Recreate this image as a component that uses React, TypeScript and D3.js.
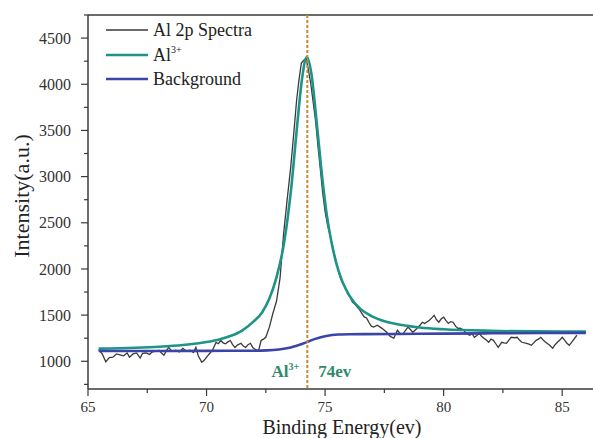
import React from "react";
import * as d3 from "d3";

// ---- data ----
const spectraX = [65.45,65.6,65.75,65.9,66.05,66.2,66.35,66.5,66.65,66.75,66.9,67.05,67.2,67.3,67.45,67.6,67.7,67.85,68.0,68.1,68.2,68.3,68.4,68.55,68.7,68.85,69.0,69.15,69.3,69.45,69.55,69.65,69.8,69.9,70.0,70.15,70.25,70.4,70.5,70.6,70.7,70.8,70.9,71.0,71.1,71.2,71.3,71.45,71.55,71.65,71.75,71.85,71.95,72.1,72.2,72.3,72.4,72.5,72.65,72.8,72.95,73.1,73.25,73.4,73.55,73.7,73.8,73.9,74.0,74.1,74.2,74.3,74.4,74.5,74.6,74.7,74.8,74.9,75.0,75.1,75.2,75.3,75.4,75.5,75.58,75.65,75.75,75.85,75.95,76.05,76.15,76.25,76.35,76.45,76.55,76.65,76.75,76.85,76.95,77.05,77.2,77.4,77.6,77.75,77.9,78.05,78.2,78.3,78.5,78.7,78.85,79.0,79.1,79.2,79.4,79.5,79.6,79.7,79.8,79.9,80.0,80.1,80.2,80.3,80.4,80.5,80.6,80.7,80.85,80.95,81.1,81.2,81.3,81.4,81.5,81.6,81.7,81.8,81.9,82.0,82.1,82.2,82.3,82.45,82.55,82.65,82.75,82.85,83.0,83.1,83.2,83.3,83.5,83.6,83.7,83.8,83.9,84.0,84.1,84.2,84.3,84.45,84.6,84.7,84.8,84.9,85.0,85.1,85.2,85.3,85.5,85.62];
const spectraY = [1125,1080,995,1040,1045,1080,1070,1060,1090,1045,1080,1090,1035,1085,1090,1075,1100,1110,1120,1090,1065,1110,1150,1105,1120,1100,1140,1110,1120,1095,1150,1060,990,1010,1045,1090,1120,1205,1190,1225,1200,1190,1210,1225,1180,1150,1175,1195,1165,1150,1180,1195,1150,1120,1120,1225,1240,1260,1370,1520,1650,1900,2380,2750,3100,3530,3830,4050,4230,4260,4280,4150,4000,3800,3600,3330,3080,2820,2620,2480,2380,2260,2150,2050,1960,1900,1840,1810,1730,1700,1640,1620,1590,1560,1520,1480,1470,1420,1380,1370,1390,1357,1314,1270,1250,1336,1290,1303,1370,1314,1350,1390,1423,1410,1444,1470,1498,1450,1423,1460,1477,1440,1410,1430,1423,1380,1357,1360,1336,1300,1282,1300,1260,1280,1303,1270,1250,1230,1206,1240,1227,1190,1152,1206,1200,1195,1230,1260,1255,1260,1230,1206,1195,1185,1173,1200,1227,1240,1260,1230,1206,1180,1141,1180,1206,1230,1260,1230,1195,1173,1240,1282];

const fitX = [65.45,67,68,69,70,70.5,71,71.5,72,72.35,72.65,72.95,73.27,73.57,73.82,74.03,74.23,74.43,74.63,74.83,75.07,75.27,75.46,75.7,76.03,76.5,77,78,79,80,82,85,86.0];
const fitY = [1137,1147,1158,1176,1208,1234,1273,1333,1435,1532,1679,1908,2282,2873,3549,4064,4295,4102,3627,3109,2589,2290,2074,1882,1708,1565,1484,1403,1366,1347,1330,1321,1321];

const bgX = [65.45,68,70,72,72.55,73.05,73.55,74.05,74.55,75.05,75.55,76.05,78,80,82,86.0];
const bgY = [1112,1112,1113,1115,1118,1128,1150,1190,1240,1275,1290,1293,1296,1300,1303,1308];

const xTicks = [65, 70, 75, 80, 85];
const yTicks = [1000, 1500, 2000, 2500, 3000, 3500, 4000, 4500];
const legendLabels = ["Al 2p Spectra", "Al", "Background"];
const peakPosition = 74.25;

const W = 593, H = 438;
const left = 88, top = 15, right = 593, bottom = 389;

export default function App() {
  const x = d3.scaleLinear().domain([65, 86.3]).range([left, right]);
  const y = d3.scaleLinear().domain([700, 4750]).range([bottom, top]);

  const mk = (xs: number[], ys: number[], curve: any) =>
    d3.line<number>().x((_, i) => x(xs[i])).y((_, i) => y(ys[i])).curve(curve)(xs.map((_, i) => i)) || "";

  const spectraPath = mk(spectraX, spectraY, d3.curveLinear);
  const fitPath = mk(fitX, fitY, d3.curveMonotoneX);
  const bgPath = mk(bgX, bgY, d3.curveMonotoneX);

  const xMinor = d3.range(65, 86.2, 2.5).filter(v => !xTicks.includes(v));
  const yMinor = d3.range(750, 4800, 500);

  const font = "'Liberation Serif', 'Times New Roman', serif";
  const axisColor = "#3a3a3a";
  const teal = "#1e9488";
  const blue = "#3b44a8";
  const annot = "#2f8a6c";

  return (
    <svg width={W} height={H} style={{ position: "absolute", left: 0, top: 0, background: "#fff" }} fontFamily={font}>
      <rect x={0} y={0} width={W} height={H} fill="#fff" />
      {/* frame */}
      <line x1={left} x2={right} y1={top} y2={top} stroke={axisColor} strokeWidth={1.5} />
      <line x1={left} x2={left} y1={top} y2={bottom} stroke={axisColor} strokeWidth={1.5} />
      <line x1={left} x2={right} y1={bottom} y2={bottom} stroke={axisColor} strokeWidth={1.5} />

      {/* y ticks */}
      {yTicks.map(t => (
        <g key={"y" + t}>
          <line x1={left - 7} x2={left} y1={y(t)} y2={y(t)} stroke={axisColor} strokeWidth={1.2} />
          <text x={left - 17} y={y(t)} dy="0.35em" textAnchor="end" fontSize={16} fill="#333">{t}</text>
        </g>
      ))}
      {yMinor.map(t => (
        <line key={"ym" + t} x1={left - 4} x2={left} y1={y(t)} y2={y(t)} stroke={axisColor} strokeWidth={1.2} />
      ))}
      {/* x ticks */}
      {xTicks.map(t => (
        <g key={"x" + t}>
          <line x1={x(t)} x2={x(t)} y1={bottom} y2={bottom + 7} stroke={axisColor} strokeWidth={1.2} />
          <text x={x(t)} y={bottom + 23} textAnchor="middle" fontSize={15} fill="#333">{t}</text>
        </g>
      ))}
      {xMinor.map(t => (
        <line key={"xm" + t} x1={x(t)} x2={x(t)} y1={bottom} y2={bottom + 4} stroke={axisColor} strokeWidth={1.2} />
      ))}

      {/* axis titles */}
      <text transform={`translate(29, 196) rotate(-90)`} textAnchor="middle" fontSize={22} fill="#222">Intensity(a.u.)</text>
      <text x={342} y={434} textAnchor="middle" fontSize={20} fill="#222">Binding Energy(ev)</text>

      {/* curves */}
      <path d={spectraPath} fill="none" stroke="#3a3a3a" strokeWidth={1.3} />
      <path d={fitPath} fill="none" stroke={teal} strokeWidth={2.6} />
      <path d={bgPath} fill="none" stroke={blue} strokeWidth={2.6} />

      {/* peak marker */}
      <line x1={x(peakPosition)} x2={x(peakPosition)} y1={top} y2={bottom} stroke="#c98a2e" strokeWidth={2} strokeDasharray="3 2" />

      {/* annotations */}
      <text x={x(peakPosition) - 8} y={377} textAnchor="end" fontSize={17} fontWeight="bold" fill={annot}>
        Al<tspan fontSize={10} dy={-7}>3+</tspan>
      </text>
      <text x={x(peakPosition) + 11} y={377} textAnchor="start" fontSize={17} fontWeight="bold" fill={annot}>74ev</text>

      {/* legend */}
      <line x1={106} x2={148} y1={30} y2={30} stroke="#3a3a3a" strokeWidth={1.5} />
      <text x={153} y={30} dy="0.35em" fontSize={18} fill="#222">{legendLabels[0]}</text>
      <line x1={106} x2={148} y1={55} y2={55} stroke={teal} strokeWidth={2.6} />
      <text x={153} y={55} dy="0.35em" fontSize={18} fill="#222">{legendLabels[1]}<tspan fontSize={10} dy={-8}>3+</tspan></text>
      <line x1={106} x2={148} y1={79} y2={79} stroke={blue} strokeWidth={2.6} />
      <text x={153} y={79} dy="0.35em" fontSize={18} fill="#222">{legendLabels[2]}</text>
    </svg>
  );
}
